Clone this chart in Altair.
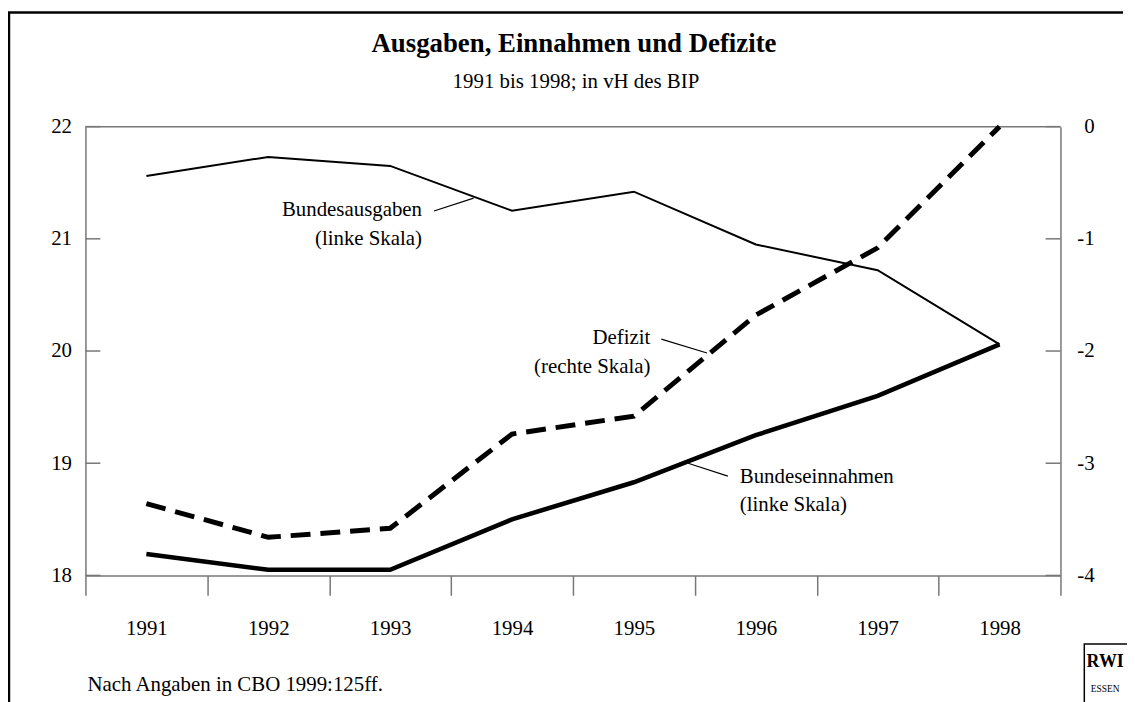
import altair as alt
import pandas as pd

years = [1991, 1992, 1993, 1994, 1995, 1996, 1997, 1998]
ausgaben = [21.56, 21.73, 21.65, 21.25, 21.42, 20.95, 20.72, 20.06]
einnahmen = [18.19, 18.05, 18.05, 18.50, 18.83, 19.25, 19.60, 20.06]
defizit = [-3.36, -3.66, -3.58, -2.74, -2.58, -1.68, -1.08, 0.0]
left_ticks = [18, 19, 20, 21, 22]
right_ticks = [-4, -3, -2, -1, 0]
year_edges = [1990.5, 1991.5, 1992.5, 1993.5, 1994.5, 1995.5, 1996.5, 1997.5, 1998.5]

W, H = 982, 452
FONT = "Liberation Serif"
GRAY = "#777777"

df_left = pd.DataFrame({
    "year": years * 2,
    "value": ausgaben + einnahmen,
    "series": ["Bundesausgaben"] * len(years) + ["Bundeseinnahmen"] * len(years),
})
df_right = pd.DataFrame({"year": years, "defizit": defizit})

xscale = alt.Scale(domain=[1990.5, 1998.5], nice=False, zero=False)
xaxis = alt.Axis(values=year_edges,
                 labelExpr="datum.value < 1998 ? '' + (datum.value + 0.5) : ''",
                 labelOffset=61.4, labelPadding=23, tickSize=20, tickColor=GRAY,
                 tickWidth=1.5, domainColor=GRAY, domainWidth=1.5,
                 labelFlush=False, labelOverlap=False, grid=False)
xenc = alt.X("year:Q", scale=xscale, title=None, axis=xaxis)

left_lines = alt.Chart(df_left).mark_line(color="black", strokeJoin="miter", clip=False).encode(
    x=xenc,
    y=alt.Y("value:Q", scale=alt.Scale(domain=[18, 22], nice=False, zero=False), title=None,
            axis=alt.Axis(orient="left", values=left_ticks, ticks=False, labelPadding=14,
                          domainColor=GRAY, domainWidth=1.5, grid=False)),
    detail="series:N",
    strokeWidth=alt.StrokeWidth("series:N",
                                scale=alt.Scale(domain=["Bundesausgaben", "Bundeseinnahmen"], range=[2, 4.6]),
                                legend=None),
)

right_line = alt.Chart(df_right).mark_line(color="black", strokeWidth=5, strokeDash=[20, 10],
                                           strokeJoin="miter", clip=False).encode(
    x=xenc,
    y=alt.Y("defizit:Q", scale=alt.Scale(domain=[-4, 0], nice=False, zero=False), title=None,
            axis=alt.Axis(orient="right", values=right_ticks, ticks=False, labelPadding=34,
                          labelAlign="right",
                          labelExpr="'' + datum.value", domainColor=GRAY, domainWidth=1.5,
                          grid=False)),
)

left_tick_rules = alt.Chart(pd.DataFrame({"v": left_ticks})).mark_rule(color=GRAY, strokeWidth=1.5).encode(
    y=alt.Y("v:Q", scale=alt.Scale(domain=[18, 22], nice=False, zero=False), axis=None),
    x=alt.value(0), x2=alt.value(15),
)
right_tick_rules = alt.Chart(pd.DataFrame({"v": right_ticks})).mark_rule(color=GRAY, strokeWidth=1.5).encode(
    y=alt.Y("v:Q", scale=alt.Scale(domain=[-4, 0], nice=False, zero=False), axis=None),
    x=alt.value(W - 15), x2=alt.value(W),
)

one = alt.Data(values=[{"k": 1}])


def text(txt, x, y, align="left", size=21, weight="normal", baseline="middle"):
    return alt.Chart(alt.Data(values=[{"t": txt}])).mark_text(
        align=align, baseline=baseline, fontSize=size, fontWeight=weight, font=FONT, color="black"
    ).encode(x=alt.value(x), y=alt.value(y), text="t:N")


def seg(x1, y1, x2, y2, color="black", width=1.2):
    return alt.Chart(one).mark_rule(color=color, strokeWidth=width).encode(
        x=alt.value(x1), y=alt.value(y1), x2=alt.value(x2), y2=alt.value(y2)
    )


top_line = seg(0, 0, W, 0, color=GRAY, width=1.5)
frame_left = seg(-77, -115, -77, 600, width=2.5)
frame_top = seg(-78, -115, 1045, -115, width=2.5)

logo_box = alt.Chart(one).mark_rect(fill="white", stroke="black", strokeWidth=1.5).encode(
    x=alt.value(1006), x2=alt.value(1050), y=alt.value(521), y2=alt.value(590)
)

layers = [
    frame_left, frame_top, top_line, left_tick_rules, right_tick_rules,
    text("Ausgaben, Einnahmen und Defizite", 492, -83, align="center", size=27, weight="bold"),
    text("1991 bis 1998; in vH des BIP", 494, -45, align="center"),
    text("Bundesausgaben", 339, 84, align="right"),
    text("(linke Skala)", 339, 113, align="right"),
    seg(351, 85, 391, 72),
    text("Defizit", 569, 213, align="right"),
    text("(rechte Skala)", 569, 242, align="right"),
    seg(580, 214, 626, 228),
    text("Bundeseinnahmen", 659, 353),
    text("(linke Skala)", 659, 381),
    seg(607, 339, 647, 352),
    text("Nach Angaben in CBO 1999:125ff.", 2, 562),
    logo_box,
    text("RWI", 1027, 539, align="center", size=18, weight="bold"),
    text("ESSEN", 1027, 566, align="center", size=9.5),
    left_lines,
    right_line,
]

chart = alt.layer(*layers).resolve_scale(y="independent").properties(
    width=W, height=H,
    padding={"left": 78, "top": 117, "right": 67, "bottom": 125},
    autosize="none",
    background="white",
).configure_view(stroke=None).configure_axis(
    labelFont=FONT, labelFontSize=21, labelColor="black"
)

chart.save("out.html", embed_options={"renderer": "svg", "actions": False})
